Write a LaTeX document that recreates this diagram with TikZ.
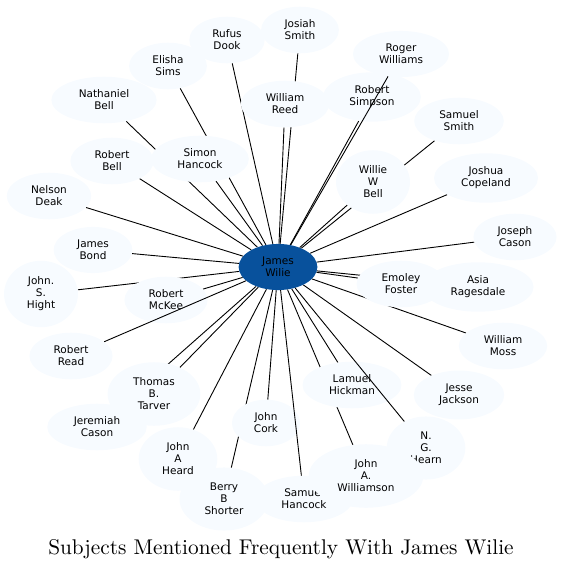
\documentclass[tikz,border=0pt]{standalone}
\usepackage{fontspec}
\newfontfamily\namefont{DejaVu Sans}
\newfontfamily\titlefont{lmroman10-regular.otf}
\usetikzlibrary{shapes.geometric}
\pgfdeclarelayer{background}
\pgfsetlayers{background,main}
\definecolor{namefill}{HTML}{F7FBFF}
\definecolor{hubfill}{HTML}{08519C}
\tikzset{
	person/.style={ellipse, fill=namefill, align=center, inner xsep=12pt, inner ysep=6.4pt,
		font={\namefont\fontsize{10.5}{12}\selectfont}},
	hub/.style={person, fill=hubfill},
	link/.style={line width=0.9pt, black}
}

\begin{document}
\begin{tikzpicture}[x=1pt, y=-1pt]
		\useasboundingbox (0,0) rectangle (562,569);

		\node[hub] (jw) at (278,267) {James\\Wilie};

		\node[person] (jsmith) at (300,30) {Josiah\\Smith};
		\node[person] (rdook) at (227,40) {Rufus\\Dook};
		\node[person] (esims) at (168,66) {Elisha\\Sims};
		\node[person] (rwilliams) at (401,54) {Roger\\Williams};
		\node[person] (nbell) at (104,100) {Nathaniel\\Bell};
		\node[person] (rsimpson) at (372,97) {Robert\\Simpson};
		\node[person] (wreed) at (285,104) {William\\Reed};
		\node[person] (ssmith) at (459,121) {Samuel\\Smith};
		\node[person] (rbell) at (112,161) {Robert\\Bell};
		\node[person] (shancock) at (200,159) {Simon\\Hancock};
		\node[person] (wbell) at (373,182) {Willie\\W\\Bell};
		\node[person] (jcopeland) at (486,178) {Joshua\\Copeland};
		\node[person] (ndeak) at (49,196) {Nelson\\Deak};
		\node[person] (jcason) at (515,237) {Joseph\\Cason};
		\node[person] (jbond) at (93,250) {James\\Bond};
		\node[person] (jhight) at (41,294) {John.\\S.\\Hight};
		\node[person] (aragesdale) at (478,287) {Asia\\Ragesdale};
		\node[person] (efoster) at (401,284) {Emoley\\Foster};
		\node[person] (rmckee) at (166,300) {Robert\\McKee};
		\node[person] (wmoss) at (503,346) {William\\Moss};
		\node[person] (rread) at (71,356) {Robert\\Read};
		\node[person] (jeremiah) at (97,427) {Jeremiah\\Cason};
		\node[person] (ttarver) at (154,394) {Thomas\\B.\\Tarver};
		\node[person] (lhickman) at (352,385) {Lamuel\\Hickman};
		\node[person] (jjackson) at (459,395) {Jesse\\Jackson};
		\node[person] (jcork) at (266,423) {John\\Cork};
		\node[person] (nghearn) at (426,448) {N.\\G.\\Hearn};
		\node[person] (jheard) at (178,459) {John\\A\\Heard};
		\node[person] (samhancock) at (304,499) {Samuel\\Hancock};
		\node[person] (jwilliamson) at (366,476) {John\\A.\\Williamson};
		\node[person] (bshorter) at (224,499) {Berry\\B\\Shorter};

		\begin{pgfonlayer}{background}
			\draw[link] (jw) -- (jsmith);
			\draw[link] (jw) -- (rdook);
			\draw[link] (jw) -- (esims);
			\draw[link] (jw) -- (nbell);
			\draw[link] (jw) -- (rsimpson);
			\draw[link] (jw) -- (wreed);
			\draw[link] (jw) -- (ssmith);
			\draw[link] (jw) -- (rbell);
			\draw[link] (jw) -- (shancock);
			\draw[link] (jw) -- (wbell);
			\draw[link] (jw) -- (jcopeland);
			\draw[link] (jw) -- (ndeak);
			\draw[link] (jw) -- (jcason);
			\draw[link] (jw) -- (jbond);
			\draw[link] (jw) -- (jhight);
			\draw[link] (jw) -- (aragesdale);
			\draw[link] (jw) -- (efoster);
			\draw[link] (jw) -- (rmckee);
			\draw[link] (jw) -- (wmoss);
			\draw[link] (jw) -- (jeremiah);
			\draw[link] (jw) -- (ttarver);
			\draw[link] (jw) -- (lhickman);
			\draw[link] (jw) -- (jjackson);
			\draw[link] (jw) -- (jcork);
			\draw[link] (jw) -- (jheard);
			\draw[link] (jw) -- (jwilliamson);
			\draw[link] (jw) -- (bshorter);
		\end{pgfonlayer}
		\draw[link] (jw) -- (rwilliams);
		\draw[link] (jw) -- (rread);
		\draw[link] (jw) -- (nghearn);
		\draw[link] (jw) -- (samhancock);

		\node[anchor=base] (title) at (281,554) {\titlefont\fontsize{21.3}{24}\selectfont Subjects Mentioned Frequently With James Wilie};
	\end{tikzpicture}
\end{document}
